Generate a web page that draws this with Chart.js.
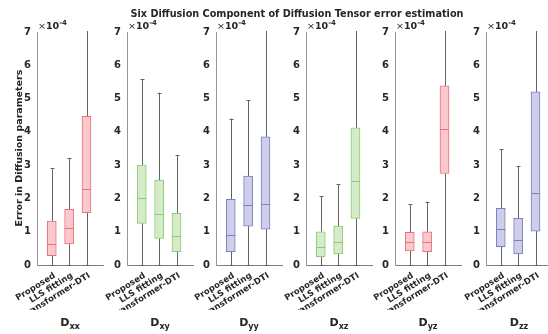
<!DOCTYPE html>
<html>
<head>
<meta charset="utf-8">
<script src="https://cdn.jsdelivr.net/npm/chart.js@4.4.1/dist/chart.umd.min.js"></script>
<style>
  html, body { margin: 0; padding: 0; background: #fff; overflow: hidden; }
  #wrap { position: relative; width: 548px; height: 334px; font-family: 'DejaVu Sans', sans-serif; color: #262626; }
  #wrap canvas { position: absolute; }
  .txt { position: absolute; white-space: nowrap; font-weight: bold; }
</style>
</head>
<body>
<div id="wrap"></div>
<script>
// Error values in units of 1e-4, one row per tensor component, one entry per method
const methods = ['Proposed', 'LLS fitting', 'Transformer-DTI'];
const components = ['xx', 'xy', 'yy', 'xz', 'yz', 'zz'];
const whiskerLow = [
  [0, 0, 0], [0, 0, 0], [0, 0, 0], [0, 0, 0], [0, 0, 0], [0, 0, 0]
];
const q1 = [
  [0.28, 0.63, 1.57], [1.25, 0.80, 0.40], [0.40, 1.17, 1.08],
  [0.25, 0.33, 1.40], [0.42, 0.40, 2.75], [0.55, 0.33, 1.02]
];
const median = [
  [0.63, 1.12, 2.27], [2.00, 1.52, 0.87], [0.90, 1.80, 1.83],
  [0.55, 0.70, 2.52], [0.70, 0.68, 4.08], [1.08, 0.75, 2.15]
];
const q3 = [
  [1.32, 1.67, 4.47], [3.00, 2.55, 1.55], [1.97, 2.67, 3.85],
  [1.00, 1.17, 4.12], [0.98, 1.00, 5.38], [1.70, 1.40, 5.20]
];
const whiskerHigh = [
  [2.90, 3.22, 7.5], [5.58, 5.18, 3.30], [4.40, 4.95, 7.5],
  [2.07, 2.42, 7.5], [1.82, 1.90, 7.5], [3.48, 2.97, 7.5]
];
const yTicks = [0, 1, 2, 3, 4, 5, 6, 7];

const palette = {
  red:   { fill: 'rgb(250,201,205)', line: 'rgb(238,112,122)' },
  green: { fill: 'rgb(214,235,203)', line: 'rgb(138,206,108)' },
  blue:  { fill: 'rgb(206,206,232)', line: 'rgb(120,126,200)' }
};
const panelColor = ['red', 'green', 'blue', 'green', 'red', 'blue'];
const axisLeft = [37, 127, 216, 306, 395, 486];

const wrap = document.getElementById('wrap');
const textColor = '#262626';
const font = { family: 'DejaVu Sans', size: 10, weight: 'bold' };

function addText(html, css) {
  const d = document.createElement('div');
  d.className = 'txt';
  d.innerHTML = html;
  Object.assign(d.style, css);
  wrap.appendChild(d);
}

// no automatic room for the rotated labels: the plot area is fixed
function noPadding(s) {
  s.paddingLeft = 0; s.paddingRight = 0; s.paddingTop = 0; s.paddingBottom = 0;
}

// whiskers behind the boxes, medians on top, rotated method names under the axis
const whiskerPlugin = {
  id: 'whiskers',
  beforeDatasetsDraw(chart) {
    const { ctx, chartArea, scales: { x, y } } = chart;
    const i = chart.options.plugins.whiskers.panel;
    ctx.save();
    ctx.beginPath();
    ctx.rect(chartArea.left, chartArea.top - 1, chartArea.width, chartArea.height + 2);
    ctx.clip();
    ctx.strokeStyle = 'rgb(100,100,100)';
    ctx.lineWidth = 1;
    methods.forEach((m, j) => {
      const px = Math.round(x.getPixelForValue(j + 1)) + 0.5;
      ctx.beginPath();
      ctx.moveTo(px, y.getPixelForValue(whiskerLow[i][j]));
      ctx.lineTo(px, y.getPixelForValue(q1[i][j]));
      ctx.moveTo(px, y.getPixelForValue(q3[i][j]));
      ctx.lineTo(px, y.getPixelForValue(whiskerHigh[i][j]));
      [whiskerLow[i][j], whiskerHigh[i][j]].forEach(v => {
        const py = Math.round(y.getPixelForValue(v)) + 0.5;
        ctx.moveTo(px - 2, py);
        ctx.lineTo(px + 2, py);
      });
      ctx.stroke();
    });
    ctx.restore();
  },
  afterDatasetsDraw(chart) {
    const { ctx, chartArea, scales: { x, y } } = chart;
    const i = chart.options.plugins.whiskers.panel;
    ctx.save();
    ctx.strokeStyle = palette[panelColor[i]].line;
    ctx.lineWidth = 1;
    methods.forEach((m, j) => {
      const px = x.getPixelForValue(j + 1);
      const py = Math.round(y.getPixelForValue(median[i][j])) + 0.5;
      ctx.beginPath();
      ctx.moveTo(px - 4.5, py);
      ctx.lineTo(px + 4.5, py);
      ctx.stroke();
    });
    ctx.fillStyle = textColor;
    ctx.font = 'bold 8.5px "DejaVu Sans"';
    ctx.textAlign = 'right';
    ctx.textBaseline = 'middle';
    methods.forEach((m, j) => {
      ctx.save();
      ctx.translate(x.getPixelForValue(j + 1) + 3, chartArea.bottom + 10);
      ctx.rotate(-32 * Math.PI / 180);
      ctx.fillText(m, 0, 0);
      ctx.restore();
    });
    ctx.restore();
  }
};

components.forEach((c, i) => {
  const cv = document.createElement('canvas');
  cv.width = 110;
  cv.height = 285;
  cv.style.left = (axisLeft[i] - 37) + 'px';
  cv.style.top = '25px';
  cv.style.width = '110px';
  cv.style.height = '285px';
  wrap.appendChild(cv);

  const col = palette[panelColor[i]];
  new Chart(cv.getContext('2d'), {
    type: 'bar',
    data: {
      datasets: [{
        data: methods.map((m, j) => ({ x: j + 1, y: [q1[i][j], q3[i][j]] })),
        backgroundColor: col.fill,
        borderColor: col.line,
        borderWidth: 1,
        borderSkipped: false,
        barThickness: 9
      }]
    },
    options: {
      responsive: false,
      animation: false,
      layout: { padding: { top: 7, right: 7, bottom: 0, left: 0 } },
      plugins: {
        legend: { display: false },
        tooltip: { enabled: false },
        whiskers: { panel: i }
      },
      scales: {
        x: {
          type: 'linear',
          offset: false,
          min: 0.15,
          max: 3.95,
          afterBuildTicks: s => { s.ticks = methods.map((m, j) => ({ value: j + 1 })); },
          afterFit: s => { s.height = 45; noPadding(s); },
          grid: { display: false, drawTicks: false, offset: false },
          border: { color: 'rgb(128,128,128)', width: 1 },
          ticks: { display: false }
        },
        y: {
          min: 0,
          max: 7,
          afterBuildTicks: s => { s.ticks = yTicks.map(v => ({ value: v })); },
          afterFit: s => { s.width = 37; noPadding(s); },
          grid: { display: false, drawTicks: false },
          border: { color: 'rgb(150,150,150)', width: 1 },
          ticks: { padding: 6, color: textColor, font: font }
        }
      }
    },
    plugins: [whiskerPlugin]
  });

  addText('<span style="font-weight:normal">&times;</span>10<sup style="font-size:7px">-4</sup>',
    { left: (axisLeft[i] + 1) + 'px', top: '19px', fontSize: '9.5px' });
  addText('D<sub style="font-size:8px">' + c + '</sub>',
    { left: (axisLeft[i] + 33) + 'px', top: '316px', fontSize: '11px', transform: 'translateX(-50%)' });
});

addText('Six Diffusion Component of Diffusion Tensor error estimation',
  { left: '297px', top: '8px', fontSize: '9.7px', transform: 'translateX(-50%)' });
addText('Error in Diffusion parameters',
  { left: '18px', top: '148px', fontSize: '9.5px', transform: 'translate(-50%,-50%) rotate(-90deg)' });
</script>
</body>
</html>
